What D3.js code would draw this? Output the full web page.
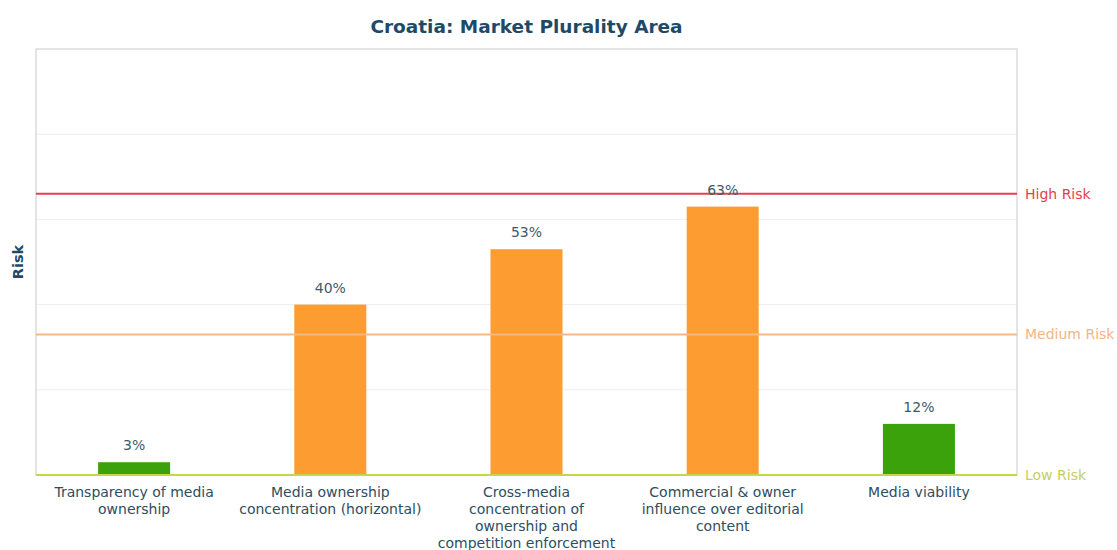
<!DOCTYPE html>
<html>
<head>
<meta charset="utf-8">
<script src="https://cdn.jsdelivr.net/npm/d3@7"></script>
<style>
  html, body { margin: 0; padding: 0; background: #fff; }
  svg { display: block; }
  svg text { font-family: "DejaVu Sans", sans-serif; }
</style>
</head>
<body>
<svg id="chart" width="1117" height="550"></svg>
<script>
// Indicator names (with manual line breaks) and their risk scores in percent
const categories = [
  ["Transparency of media", "ownership"],
  ["Media ownership", "concentration (horizontal)"],
  ["Cross-media", "concentration of", "ownership and", "competition enforcement"],
  ["Commercial & owner", "influence over editorial", "content"],
  ["Media viability"]
];
const values = [3, 40, 53, 63, 12];
const barColors = ["#3ca20c", "#fd9c30", "#fd9c30", "#fd9c30", "#3ca20c"];

// Risk thresholds drawn as horizontal reference lines
const thresholdLabels = ["High Risk", "Medium Risk", "Low Risk"];
const thresholdValues = [66, 33, 0];
const thresholdColors = ["#e2414f", "#f7b783", "#c3d64c"];
const thresholdTextColors = ["#e2414f", "#f4b486", "#c3cf5d"];

const gridValues = [20, 40, 60, 80];

const svg = d3.select("#chart");
const x0 = 36, x1 = 1017, y0 = 475, y1 = 49;

const x = d3.scaleBand()
  .domain(d3.range(values.length))
  .range([x0, x1])
  .paddingInner(0.633)
  .paddingOuter(0.3165);

const y = d3.scaleLinear().domain([0, 100]).range([y0, y1]);

// Gridlines
svg.append("g").selectAll("line").data(gridValues).join("line")
  .attr("x1", x0).attr("x2", x1)
  .attr("y1", d => y(d)).attr("y2", d => y(d))
  .attr("stroke", "#eeeeee").attr("stroke-width", 1);

// Plot frame
svg.append("rect")
  .attr("x", x0).attr("y", y1)
  .attr("width", x1 - x0).attr("height", y0 - y1)
  .attr("fill", "none").attr("stroke", "#d3d6d8").attr("stroke-width", 1.3);

// Bars
svg.append("g").selectAll("rect").data(values).join("rect")
  .attr("x", (d, i) => x(i))
  .attr("width", x.bandwidth())
  .attr("y", d => y(d))
  .attr("height", d => y(0) - y(d))
  .attr("fill", (d, i) => barColors[i]);

// Threshold lines and labels
const th = svg.append("g");
th.selectAll("line").data(thresholdValues).join("line")
  .attr("x1", x0).attr("x2", x1)
  .attr("y1", d => y(d)).attr("y2", d => y(d))
  .attr("stroke", (d, i) => thresholdColors[i])
  .attr("stroke-width", 2);
th.selectAll("text").data(thresholdValues).join("text")
  .attr("x", x1 + 8)
  .attr("y", d => y(d))
  .attr("dy", "0.35em")
  .attr("font-size", 14)
  .attr("fill", (d, i) => thresholdTextColors[i])
  .text((d, i) => thresholdLabels[i]);

// Value labels above bars
svg.append("g").selectAll("text").data(values).join("text")
  .attr("x", (d, i) => x(i) + x.bandwidth() / 2)
  .attr("y", d => y(d) - 12)
  .attr("text-anchor", "middle")
  .attr("font-size", 14)
  .attr("fill", "#3d5a6c")
  .text(d => d + "%");

// Category axis
const xAxis = svg.append("g")
  .attr("transform", `translate(0,${y0})`)
  .call(d3.axisBottom(x).tickSize(0).tickFormat(""));
xAxis.attr("font-family", null);
xAxis.select(".domain").remove();
xAxis.selectAll(".tick").each(function (d) {
  const t = d3.select(this).append("text")
    .attr("text-anchor", "middle")
    .attr("font-size", 14)
    .attr("fill", "#2e4d60");
  categories[d].forEach((line, k) => {
    t.append("tspan").attr("x", 0).attr("y", 22 + k * 17).text(line);
  });
});

// Title
svg.append("text")
  .attr("x", (x0 + x1) / 2).attr("y", 33)
  .attr("text-anchor", "middle")
  .attr("font-size", 18.5).attr("font-weight", "bold")
  .attr("fill", "#1f4a66")
  .text("Croatia: Market Plurality Area");

// Y axis title
svg.append("text")
  .attr("transform", `translate(23,${(y0 + y1) / 2}) rotate(-90)`)
  .attr("text-anchor", "middle")
  .attr("font-size", 14.5).attr("font-weight", "bold")
  .attr("fill", "#1f4a66")
  .text("Risk");
</script>
</body>
</html>
